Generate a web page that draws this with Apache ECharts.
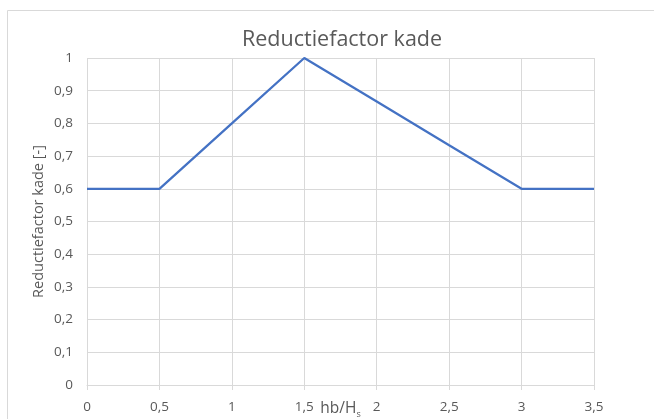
<!DOCTYPE html>
<html>
<head>
<meta charset="utf-8">
<script src="https://cdn.jsdelivr.net/npm/echarts@6/dist/echarts.min.js"></script>
<style>html,body{margin:0;padding:0;background:#fff}#c{width:654px;height:419px}</style>
</head>
<body>
<div id="c"></div>
<script>
const xValues = [0, 0.5, 1, 1.5, 2, 2.5, 3, 3.5];
const reductiefactor = [0.6, 0.6, 0.8, 1.0, 0.867, 0.733, 0.6, 0.6];
const titleText = 'Reductiefactor kade';
const yAxisTitle = 'Reductiefactor kade [-]';

const fmt = v => String(v).replace('.', ',');
const chart = echarts.init(document.getElementById('c'));
const font = '"Open Sans", "Noto Sans", sans-serif';
chart.setOption({
  animation: false,
  textStyle: { fontFamily: font },
  graphic: [{
    type: 'rect', left: 5, top: 8, silent: true,
    shape: { width: 700, height: 500 },
    style: { fill: 'none', stroke: '#d9d9d9', lineWidth: 1 }
  }],
  title: {
    text: titleText, left: 237, top: 24,
    textStyle: { fontFamily: font, fontSize: 21.5, fontWeight: 'normal', color: '#595959' }
  },
  grid: { left: 87, right: 60, top: 58, bottom: 34, outerBoundsMode: 'none', containLabel: false },
  xAxis: {
    type: 'value', min: 0, max: 3.5, interval: 0.5,
    name: '{n|hb/H}{s|s}', nameLocation: 'middle', nameGap: 14, nameMoveOverlap: false,
    nameTextStyle: {
      rich: {
        n: { fontFamily: font, fontSize: 15.5, color: '#595959' },
        s: { fontFamily: font, fontSize: 9, color: '#595959', padding: [11, 0, 0, 0] }
      }
    },
    axisLine: { show: true, lineStyle: { color: '#d9d9d9', width: 1 } },
    axisTick: { show: true, length: 5, lineStyle: { color: '#d9d9d9' } },
    axisLabel: { color: '#595959', fontSize: 13.5, margin: 15, formatter: fmt },
    splitLine: { show: true, lineStyle: { color: '#d9d9d9', width: 1 } }
  },
  yAxis: {
    type: 'value', min: 0, max: 1, interval: 0.1,
    name: yAxisTitle, nameLocation: 'middle', nameGap: 41, nameRotate: 90, nameMoveOverlap: false,
    nameTextStyle: { fontFamily: font, fontSize: 14.5, color: '#595959' },
    axisLine: { show: false },
    axisTick: { show: false },
    axisLabel: { color: '#595959', fontSize: 13.5, margin: 14, formatter: v => fmt(Math.round(v * 10) / 10) },
    splitLine: { show: true, lineStyle: { color: '#d9d9d9', width: 1 } }
  },
  series: [{
    type: 'line',
    data: xValues.map((x, i) => [x, reductiefactor[i]]),
    showSymbol: false,
    lineStyle: { color: '#4472C4', width: 2.25 },
    itemStyle: { color: '#4472C4' }
  }]
});
</script>
</body>
</html>
